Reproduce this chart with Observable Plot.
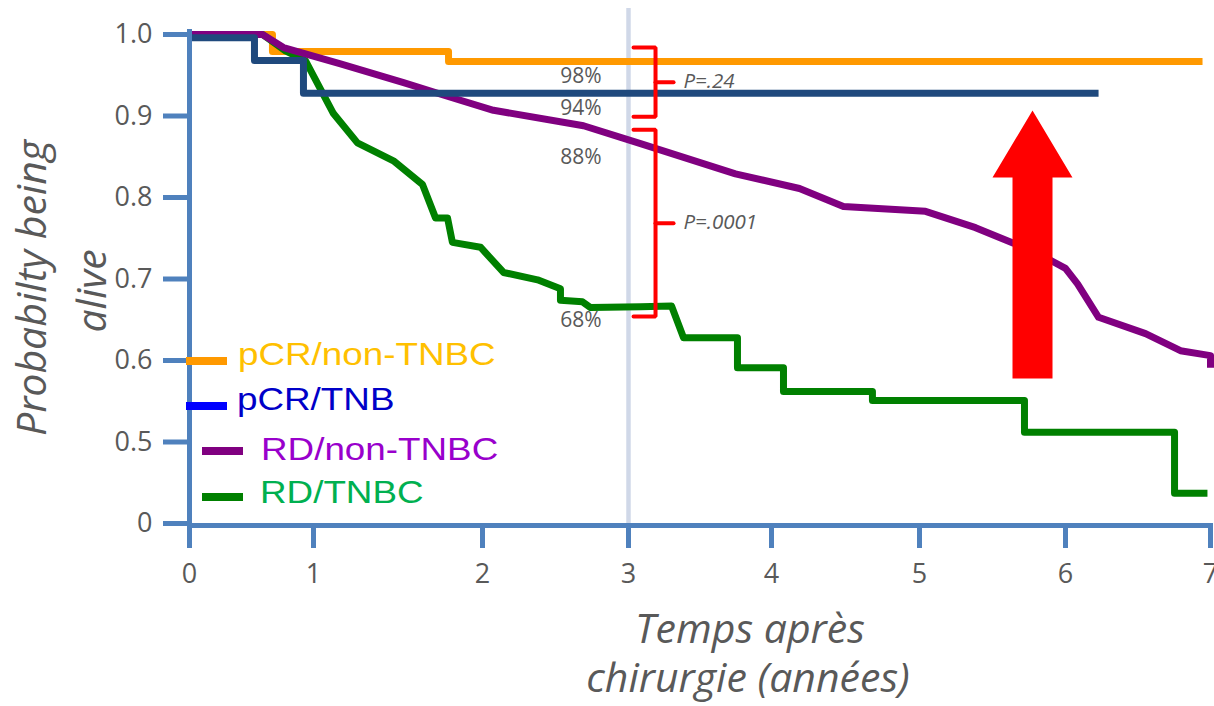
<!DOCTYPE html>
<html>
<head>
<meta charset="utf-8">
<script src="https://cdn.jsdelivr.net/npm/d3@7"></script>
<script src="https://cdn.jsdelivr.net/npm/@observablehq/plot@0.6"></script>
<style>
  html, body { margin: 0; padding: 0; background: #fff; overflow: hidden; }
  #chart { position: relative; width: 1214px; height: 706px; }
  .swatch { position: absolute; width: 41px; height: 8px; }
  .label {
    position: absolute; white-space: nowrap;
    font-family: "Liberation Sans", Arial, sans-serif; font-size: 32px; line-height: 32px;
    transform: scaleX(1.15); transform-origin: left center;
  }
</style>
</head>
<body>
<div id="chart"></div>
<script>
// Kaplan–Meier survival curves: [years after surgery, probability of being alive]
const pcrNonTnbc = [
  [0, 1.0], [0.669, 1.0], [0.669, 0.979], [1.799, 0.979], [1.799, 0.967], [6.945, 0.967]
];
const pcrTnb = [
  [0, 0.996], [0.524, 0.996], [0.524, 0.968], [0.919, 0.968], [0.919, 0.928], [6.228, 0.928]
];
const rdNonTnbc = [
  [0, 1.0], [0.589, 1.0], [0.758, 0.984], [1.160, 0.964], [1.533, 0.941], [1.811, 0.923],
  [2.075, 0.907], [2.692, 0.888], [3.084, 0.866], [3.748, 0.829], [4.189, 0.811], [4.486, 0.789],
  [5.041, 0.783], [5.384, 0.763], [5.644, 0.744], [5.897, 0.723], [6.0, 0.713], [6.083, 0.694],
  [6.228, 0.653], [6.552, 0.633], [6.793, 0.612], [7.0, 0.606], [7.0, 0.591]
];
const rdTnbc = [
  [0, 1.0], [0.589, 1.0], [0.774, 0.980], [0.935, 0.968], [1.118, 0.903], [1.260, 0.867],
  [1.473, 0.845], [1.645, 0.816], [1.722, 0.775], [1.793, 0.775], [1.822, 0.745], [1.988, 0.739],
  [2.144, 0.708], [2.377, 0.699], [2.534, 0.688], [2.534, 0.674], [2.685, 0.672], [2.740, 0.665],
  [3.084, 0.666], [3.301, 0.667], [3.385, 0.628], [3.762, 0.628], [3.762, 0.591], [4.081, 0.591],
  [4.081, 0.562], [4.682, 0.562], [4.682, 0.551], [5.719, 0.551], [5.719, 0.512], [6.752, 0.512],
  [6.752, 0.437], [6.979, 0.437]
];

// Axis ticks (the bottom of the axis is broken: 0.4 is shown as "0")
const xTicks = [0, 1, 2, 3, 4, 5, 6, 7];
const xTickLabels = ["0", "1", "2", "3", "4", "5", "6", "7"];
const yTicks = [0.4, 0.5, 0.6, 0.7, 0.8, 0.9, 1.0];
const yTickLabels = ["0", "0.5", "0.6", "0.7", "0.8", "0.9", "1.0"];

// Survival at 3 years, and the two comparisons
const landmarkYear = 3;
const survivalAt3 = [0.98, 0.94, 0.88, 0.68];
const comparisons = [
  {top: 0.984, bottom: 0.899, label: "P=.24"},
  {top: 0.883, bottom: 0.654, label: "P=.0001"}
];

// Legend
const legendLabels = ["pCR/non-TNBC", "pCR/TNB", "RD/non-TNBC", "RD/TNBC"];
const legendTextColors = ["#ffc000", "#0000c8", "#9900cc", "#00b050"];
const legendSwatchColors = ["#ff9900", "#0000ff", "#800080", "#008000"];

// ---- drawing ----
const axisBlue = "#4f81bd";
const textGray = "#595959";
const xRange = [189, 313, 482, 628, 771, 919, 1065, 1210]; // uneven spacing of the year ticks

const toRows = pts => pts.map(([t, p]) => ({t, p}));
const curve = (pts, color) => Plot.line(toRows(pts), {
  x: "t", y: "p", stroke: color, strokeWidth: 7, strokeLinejoin: "round", strokeLinecap: "butt"
});

// bracket shapes next to the 3-year line
const bLeft = 3.035, bSpine = 3.189, bTick = 3.315;
const bracketPts = comparisons.flatMap((c, i) => {
  const mid = (c.top + c.bottom) / 2;
  return [
    {k: `b${i}`, x: bLeft, y: c.top}, {k: `b${i}`, x: bSpine, y: c.top},
    {k: `b${i}`, x: bSpine, y: c.bottom}, {k: `b${i}`, x: bLeft, y: c.bottom},
    {k: `t${i}`, x: bSpine, y: mid}, {k: `t${i}`, x: bTick, y: mid}
  ];
});

// block arrow pointing up
const arrowShape = [
  {x: 5.637, y: 0.578}, {x: 5.637, y: 0.8245}, {x: 5.5, y: 0.8245}, {x: 5.774, y: 0.9067},
  {x: 6.048, y: 0.8245}, {x: 5.911, y: 0.8245}, {x: 5.911, y: 0.578}
];

const titleStyle = {fill: textGray, fontSize: 41, fontStyle: "italic", fontFamily: "Open Sans", textAnchor: "middle", lineAnchor: "bottom"};

const chart = Plot.plot({
  width: 1214,
  height: 706,
  marginLeft: 189,
  marginRight: 4,
  marginTop: 34,
  marginBottom: 183,
  x: {type: "linear", domain: xTicks, range: xRange},
  y: {type: "linear", domain: [0.4, 1.0], range: [523, 34]},
  style: {background: "white", overflow: "visible"},
  marks: [
    Plot.ruleX([landmarkYear], {y1: 0.4, y2: 1.032, stroke: "#d0d8e8", strokeWidth: 4.5}),
    curve(pcrNonTnbc, "#ff9900"),
    curve(rdTnbc, "#008000"),
    curve(rdNonTnbc, "#800080"),
    curve(pcrTnb, "#1f497d"),
    Plot.line(bracketPts, {x: "x", y: "y", z: "k", stroke: "#ff0000", strokeWidth: 4, strokeLinejoin: "miter"}),
    Plot.line(arrowShape, {x: "x", y: "y", fill: "#ff0000", stroke: "none"}),
    Plot.text(survivalAt3, {
      x: landmarkYear, y: d => d, text: d => d3.format(".0%")(d),
      textAnchor: "end", lineAnchor: "middle", dx: -27, dy: 25,
      fill: textGray, fontSize: 21, fontFamily: "Open Sans"
    }),
    Plot.text(comparisons, {
      x: landmarkYear, y: d => (d.top + d.bottom) / 2, text: "label",
      textAnchor: "start", lineAnchor: "middle", dx: 55, dy: -1,
      fill: textGray, fontSize: 20.5, fontStyle: "italic", fontFamily: "Open Sans"
    }),
    // axis lines
    Plot.ruleX([0], {y1: 0.4, y2: 1.006, stroke: axisBlue, strokeWidth: 5}),
    Plot.ruleY([0.4], {x1: 0, x2: 7, stroke: axisBlue, strokeWidth: 5, dy: 2}),
    Plot.axisX({
      ticks: xTicks, tickFormat: d => xTickLabels[xTicks.indexOf(d)],
      tickSize: 25, tickPadding: 15, stroke: axisBlue, strokeWidth: 5,
      fill: textGray, fontSize: 27, fontFamily: "Open Sans", label: null
    }),
    Plot.axisY({
      ticks: yTicks, tickFormat: d => yTickLabels[yTicks.indexOf(d)],
      tickSize: 26, tickPadding: 11, stroke: axisBlue, strokeWidth: 5,
      fill: textGray, fontSize: 27, fontFamily: "Open Sans", label: null
    }),
    // axis titles
    Plot.text(["Temps après"], {...titleStyle, frameAnchor: "bottom", dx: 50, dy: 119}),
    Plot.text(["chirurgie (années)"], {...titleStyle, frameAnchor: "bottom", dx: 48, dy: 168}),
    Plot.text(["Probabilty being"], {...titleStyle, frameAnchor: "left", rotate: -90, dx: -144, dy: 9}),
    Plot.text(["alive"], {...titleStyle, frameAnchor: "left", rotate: -90, dx: -84, dy: 12})
  ]
});

const host = document.getElementById("chart");
host.appendChild(chart);

// legend drawn over the lower-left corner of the plot
const legendLayout = [
  {swatchLeft: 186, swatchMid: 361, textLeft: 238, baseline: 365},
  {swatchLeft: 186, swatchMid: 406, textLeft: 237, baseline: 410},
  {swatchLeft: 202, swatchMid: 451, textLeft: 261, baseline: 460},
  {swatchLeft: 202, swatchMid: 497, textLeft: 260, baseline: 503}
];
legendLabels.forEach((label, i) => {
  const L = legendLayout[i];
  const sw = document.createElement("div");
  sw.className = "swatch";
  sw.style.left = L.swatchLeft + "px";
  sw.style.top = (L.swatchMid - 4) + "px";
  sw.style.background = legendSwatchColors[i];
  host.appendChild(sw);
  const tx = document.createElement("div");
  tx.className = "label";
  tx.style.left = L.textLeft + "px";
  tx.style.top = (L.baseline - 27) + "px";
  tx.style.color = legendTextColors[i];
  tx.textContent = label;
  host.appendChild(tx);
});
</script>
</body>
</html>
